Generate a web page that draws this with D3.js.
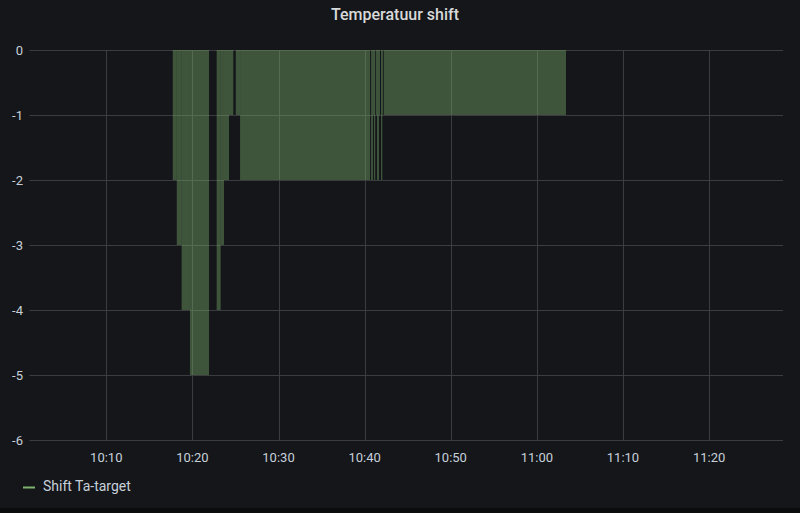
<!DOCTYPE html>
<html>
<head>
<meta charset="utf-8">
<script src="https://cdn.jsdelivr.net/npm/d3@7"></script>
<style>
  body { margin: 0; background: #0b0c0e; }
  svg { display: block; font-family: Roboto, "Noto Sans", sans-serif; }
</style>
</head>
<body>
<svg id="chart" width="800" height="513"></svg>
<script>
// change points of the series: each value holds until the next time
const times = [
  "10:17:43", "10:18:11", "10:18:45", "10:19:43", "10:21:56", "10:22:49",
  "10:23:17", "10:23:40", "10:24:15", "10:24:45", "10:25:02", "10:25:32",
  "10:40:38", "10:40:45", "10:40:58", "10:41:05", "10:41:14", "10:41:19",
  "10:41:26", "10:41:40", "10:41:47", "10:41:54", "10:42:03", "10:42:10",
  "10:42:15", "11:03:23"
]
const values = [
  -2, -3, -4, -5, 0, -4,
  -3, -2, -1, 0, -1, -2,
  0, -2, -1, -2, 0, -1,
  -2, -1, 0, -2, -1, 0,
  -1, null
]
const yTicks = [0, -1, -2, -3, -4, -5, -6]
const timeRange = ["10:01:05", "11:28:35"]
const seriesName = "Shift Ta-target"
const title = "Temperatuur shift"

const parse = s => d3.timeParse("%Y-%m-%d %H:%M:%S")("2021-01-01 " + s)

const svg = d3.select("#chart")
const margin = { left: 29.5, right: 17, top: 50, bottom: 73 }
const W = 800, H = 513

// panel background
svg.append("rect").attr("width", W).attr("height", 508).attr("fill", "#141619")

const x = d3.scaleTime()
  .domain(timeRange.map(parse))
  .range([margin.left, W - margin.right])
const y = d3.scaleLinear()
  .domain([-6, 0])
  .range([H - margin.bottom, margin.top])

// grid
const grid = svg.append("g").attr("stroke", "#3a3c40").attr("stroke-width", 1)
grid.selectAll(".h").data(yTicks).join("line")
  .attr("x1", margin.left).attr("x2", W - margin.right)
  .attr("y1", d => Math.round(y(d)) + 0.5).attr("y2", d => Math.round(y(d)) + 0.5)
const xTicks = x.ticks(d3.timeMinute.every(10))
grid.selectAll(".v").data(xTicks).join("line")
  .attr("x1", d => Math.round(x(d)) + 0.5).attr("x2", d => Math.round(x(d)) + 0.5)
  .attr("y1", y(0)).attr("y2", y(-6))

// bars
const pts = times.map((t, i) => ({ t: parse(t), v: values[i] }))
const bars = pts.slice(0, -1).map((p, i) => ({ t0: p.t, t1: pts[i + 1].t, v: p.v }))
svg.append("g").selectAll("rect").data(bars.filter(d => d.v < 0)).join("rect")
  .attr("x", d => x(d.t0))
  .attr("width", d => x(d.t1) - x(d.t0))
  .attr("y", y(0))
  .attr("height", d => y(d.v) - y(0))
  .attr("fill", "#7eb26d")
  .attr("fill-opacity", 0.4)

// y axis labels
svg.append("g").selectAll("text").data(yTicks).join("text")
  .attr("x", 23).attr("y", d => y(d))
  .attr("dy", "0.36em")
  .attr("text-anchor", "end")
  .attr("font-size", 13)
  .attr("fill", "#c7d0d9")
  .text(d => d)

// x axis labels
svg.append("g").selectAll("text").data(xTicks).join("text")
  .attr("x", d => x(d)).attr("y", 462)
  .attr("text-anchor", "middle")
  .attr("font-size", 13)
  .attr("fill", "#c7d0d9")
  .text(d3.timeFormat("%H:%M"))

// title
svg.append("text")
  .attr("x", 395).attr("y", 20)
  .attr("text-anchor", "middle")
  .attr("font-size", 16)
  .attr("font-weight", 500)
  .attr("fill", "#d8d9da")
  .text(title)

// legend
svg.append("line")
  .attr("x1", 23).attr("x2", 35).attr("y1", 487.5).attr("y2", 487.5)
  .attr("stroke", "#7eb26d").attr("stroke-width", 2)
svg.append("text")
  .attr("x", 43).attr("y", 491)
  .attr("font-size", 14)
  .attr("fill", "#c7d0d9")
  .text(seriesName)
</script>
</body>
</html>
